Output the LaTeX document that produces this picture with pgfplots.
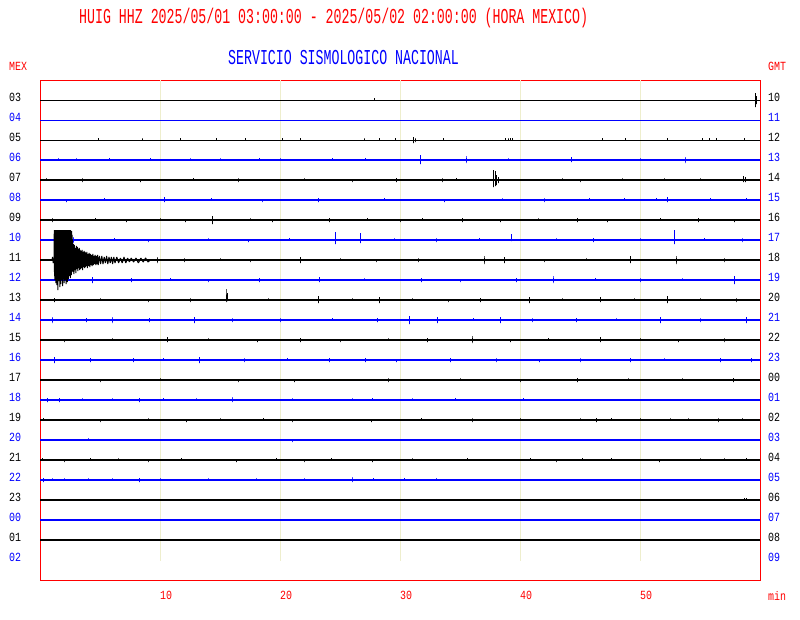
\documentclass[border=0pt]{standalone}
\usepackage{pgfplots}
\pgfplotsset{compat=1.18}
\usepackage{graphicx}
\usepackage{fontspec}
\newfontfamily\mono{Liberation Mono}
\definecolor{sred}{RGB}{255,0,0}
\definecolor{sblue}{RGB}{0,0,255}
\definecolor{sgrid}{RGB}{238,238,205}
\newcommand\lbl{\fontsize{10}{10}\mono}
\newcommand\ttl{\fontsize{13.3}{14}\mono}
\newcommand\lab[1]{\scalebox{1}[1.25]{#1}}
\begin{document}
\begin{tikzpicture}
\path[use as bounding box, fill=white] (0,0) rectangle (800bp,620bp);
\begin{axis}[at={(40bp,40bp)}, anchor=south west, scale only axis,
  width=720bp, height=500bp, xmin=0, xmax=60, ymin=0, ymax=500, y dir=reverse,
  axis line style={sred, line width=1bp}, ytick=\empty,
  xtick={10,20,30,40,50}, xticklabels={\lab{10},\lab{20},\lab{30},\lab{40},\lab{50}},
  major tick length=0pt,
  xticklabel style={anchor=center, yshift=-15bp, xshift=6bp, text=sred, font=\lbl},
  /pgf/number format/assume math mode=true,
  every axis plot/.append style={line join=bevel, line cap=butt}]
% grid lines
\addplot[sgrid, line width=1bp] coordinates {(10,0)(10,481)};
\addplot[sgrid, line width=1bp] coordinates {(20,0)(20,481)};
\addplot[sgrid, line width=1bp] coordinates {(30,0)(30,481)};
\addplot[sgrid, line width=1bp] coordinates {(40,0)(40,481)};
\addplot[sgrid, line width=1bp] coordinates {(50,0)(50,481)};
% row 03
\addplot[black, line width=1bp] coordinates {(0,20)(60,20)};
\addplot[black, line width=1bp] coordinates {(27.9,20)(27.9,18)(27.9,20)(59.64,20)(59.64,13)(59.64,27)(59.64,20)(59.72,20)(59.72,16)(59.72,24)(59.72,20)};
% row 04
\addplot[sblue, line width=1bp] coordinates {(0,40)(60,40)};
% row 05
\addplot[black, line width=1bp] coordinates {(0,60)(60,60)};
\addplot[black, line width=1bp] coordinates {(4.9,60)(4.9,58)(4.9,60)(8.5,60)(8.5,58)(8.5,60)(11.7,60)(11.7,58)(11.7,60)(14.7,60)(14.7,58)(14.7,60)(17.1,60)(17.1,58)(17.1,60)(20.2,60)(20.2,58)(20.2,60)(21.7,60)(21.7,58)(21.7,60)(27.0,60)(27.0,58)(27.0,60)(28.3,60)(28.3,58)(28.3,60)(29.6,60)(29.6,58)(29.6,60)(31.1,60)(31.1,57)(31.1,63)(31.1,60)(31.25,60)(31.25,58)(31.25,62)(31.25,60)(33.6,60)(33.6,58)(33.6,60)(38.8,60)(38.8,58)(38.8,60)(39.0,60)(39.0,58)(39.0,60)(39.2,60)(39.2,58)(39.2,60)(39.4,60)(39.4,58)(39.4,60)(46.9,60)(46.9,58)(46.9,60)(48.8,60)(48.8,58)(48.8,60)(52.3,60)(52.3,58)(52.3,60)(55.2,60)(55.2,58)(55.2,60)(55.8,60)(55.8,58)(55.8,60)(56.4,60)(56.4,58)(56.4,60)(58.7,60)(58.7,58)(58.7,60)};
% row 06
\addplot[sblue, line width=2.2bp] coordinates {(0,80)(60,80)};
\addplot[sblue, line width=1bp] coordinates {(1.5,80)(1.5,78)(1.5,80)(3.0,80)(3.0,78)(3.0,80)(5.8,80)(5.8,78)(5.8,80)(9.2,80)(9.2,78)(9.2,80)(12.5,80)(12.5,78)(12.5,80)(15.0,80)(15.0,78)(15.0,80)(18.3,80)(18.3,78)(18.3,80)(20.0,80)(20.0,78)(20.0,80)(24.4,80)(24.4,78)(24.4,80)(27.1,80)(27.1,78)(27.1,80)(31.67,80)(31.67,75)(31.67,84)(31.67,80)(35.5,80)(35.5,76)(35.5,83)(35.5,80)(39.0,80)(39.0,78)(39.0,80)(44.3,80)(44.3,77)(44.3,82)(44.3,80)(50.0,80)(50.0,78)(50.0,80)(53.75,80)(53.75,77)(53.75,83)(53.75,80)};
% row 07
\addplot[black, line width=2.4bp] coordinates {(0,100)(60,100)};
\addplot[black, line width=1bp] coordinates {(0.5,100)(0.5,98)(0.5,100)(3.5,100)(3.5,98)(3.5,102)(3.5,100)(8.4,100)(8.4,102)(8.4,100)(12.8,100)(12.8,98)(12.8,100)(16.5,100)(16.5,98)(16.5,102)(16.5,100)(22.0,100)(22.0,98)(22.0,100)(26.0,100)(26.0,102)(26.0,100)(29.7,100)(29.7,98)(29.7,102)(29.7,100)(33.5,100)(33.5,98)(33.5,102)(33.5,100)(34.7,100)(34.7,98)(34.7,100)(37.83,100)(37.83,90)(37.83,107)(37.83,100)(37.95,100)(37.95,91)(37.95,106)(37.95,100)(38.05,100)(38.05,95)(38.05,105)(38.05,100)(38.2,100)(38.2,97)(38.2,103)(38.2,100)(43.5,100)(43.5,98)(43.5,100)(45.0,100)(45.0,102)(45.0,100)(48.5,100)(48.5,98)(48.5,100)(52.0,100)(52.0,98)(52.0,100)(55.0,100)(55.0,98)(55.0,100)(58.6,100)(58.6,96)(58.6,102)(58.6,100)(58.8,100)(58.8,97)(58.8,102)(58.8,100)};
% row 08
\addplot[sblue, line width=2.4bp] coordinates {(0,120)(60,120)};
\addplot[sblue, line width=1bp] coordinates {(2.2,120)(2.2,122)(2.2,120)(5.4,120)(5.4,118)(5.4,120)(10.4,120)(10.4,117)(10.4,122)(10.4,120)(14.3,120)(14.3,118)(14.3,120)(18.5,120)(18.5,122)(18.5,120)(23.2,120)(23.2,118)(23.2,122)(23.2,120)(28.7,120)(28.7,118)(28.7,120)(33.7,120)(33.7,122)(33.7,120)(38.5,120)(38.5,118)(38.5,120)(42.0,120)(42.0,118)(42.0,122)(42.0,120)(45.8,120)(45.8,118)(45.8,120)(48.7,120)(48.7,118)(48.7,120)(51.4,120)(51.4,118)(51.4,120)(52.3,120)(52.3,117)(52.3,122)(52.3,120)(55.9,120)(55.9,118)(55.9,120)(58.9,120)(58.9,118)(58.9,120)};
% row 09
\addplot[black, line width=2.4bp] coordinates {(0,140)(60,140)};
\addplot[black, line width=1bp] coordinates {(1.0,140)(1.0,138)(1.0,142)(1.0,140)(4.6,140)(4.6,138)(4.6,140)(7.2,140)(7.2,142)(7.2,140)(10.0,140)(10.0,138)(10.0,140)(12.1,140)(12.1,142)(12.1,140)(14.4,140)(14.4,136)(14.4,144)(14.4,140)(17.5,140)(17.5,138)(17.5,140)(19.4,140)(19.4,142)(19.4,140)(24.1,140)(24.1,138)(24.1,142)(24.1,140)(27.3,140)(27.3,138)(27.3,140)(30.0,140)(30.0,142)(30.0,140)(31.9,140)(31.9,138)(31.9,140)(35.2,140)(35.2,138)(35.2,142)(35.2,140)(38.4,140)(38.4,142)(38.4,140)(41.5,140)(41.5,138)(41.5,140)(44.8,140)(44.8,138)(44.8,142)(44.8,140)(47.3,140)(47.3,142)(47.3,140)(51.7,140)(51.7,138)(51.7,140)(54.9,140)(54.9,138)(54.9,142)(54.9,140)(57.9,140)(57.9,142)(57.9,140)};
% row 10
\addplot[sblue, line width=2.4bp] coordinates {(0,160)(60,160)};
\addplot[sblue, line width=1bp] coordinates {(2.75,160)(2.75,157)(2.75,163)(2.75,160)(6.2,160)(6.2,158)(6.2,160)(9.0,160)(9.0,162)(9.0,160)(14.0,160)(14.0,158)(14.0,160)(17.4,160)(17.4,162)(17.4,160)(20.8,160)(20.8,158)(20.8,160)(24.6,160)(24.6,152)(24.6,164)(24.6,160)(26.7,160)(26.7,153)(26.7,163)(26.7,160)(29.5,160)(29.5,158)(29.5,160)(33.0,160)(33.0,158)(33.0,162)(33.0,160)(36.6,160)(36.6,158)(36.6,160)(39.3,160)(39.3,154)(39.3,161)(39.3,160)(43.0,160)(43.0,158)(43.0,160)(46.1,160)(46.1,158)(46.1,162)(46.1,160)(50.0,160)(50.0,158)(50.0,160)(52.9,160)(52.9,150)(52.9,164)(52.9,160)(55.4,160)(55.4,158)(55.4,160)(58.5,160)(58.5,158)(58.5,162)(58.5,160)};
% row 11
\addplot[black, line width=2.8bp] coordinates {(0,180)(60,180)};
\addplot[black, line width=1bp] coordinates {(9.75,180)(9.75,177)(9.75,183)(9.75,180)(12.0,180)(12.0,178)(12.0,182)(12.0,180)(15.0,180)(15.0,178)(15.0,180)(17.5,180)(17.5,182)(17.5,180)(21.7,180)(21.7,177)(21.7,183)(21.7,180)(25.0,180)(25.0,178)(25.0,180)(28.0,180)(28.0,182)(28.0,180)(31.5,180)(31.5,178)(31.5,182)(31.5,180)(37.0,180)(37.0,176)(37.0,184)(37.0,180)(38.7,180)(38.7,177)(38.7,183)(38.7,180)(42.0,180)(42.0,182)(42.0,180)(45.5,180)(45.5,178)(45.5,180)(49.2,180)(49.2,176)(49.2,183)(49.2,180)(53.0,180)(53.0,176)(53.0,184)(53.0,180)(57.0,180)(57.0,178)(57.0,182)(57.0,180)};
% row 12
\addplot[sblue, line width=2.8bp] coordinates {(0,200)(60,200)};
\addplot[sblue, line width=1bp] coordinates {(4.4,200)(4.4,197)(4.4,203)(4.4,200)(7.6,200)(7.6,198)(7.6,202)(7.6,200)(10.9,200)(10.9,198)(10.9,200)(14.0,200)(14.0,202)(14.0,200)(18.3,200)(18.3,198)(18.3,202)(18.3,200)(23.3,200)(23.3,197)(23.3,202)(23.3,200)(27.0,200)(27.0,198)(27.0,200)(31.8,200)(31.8,198)(31.8,202)(31.8,200)(35.0,200)(35.0,202)(35.0,200)(39.7,200)(39.7,198)(39.7,202)(39.7,200)(42.75,200)(42.75,196)(42.75,203)(42.75,200)(46.3,200)(46.3,198)(46.3,200)(50.0,200)(50.0,198)(50.0,202)(50.0,200)(53.5,200)(53.5,198)(53.5,200)(57.9,200)(57.9,196)(57.9,204)(57.9,200)};
% row 13
\addplot[black, line width=2.4bp] coordinates {(0,220)(60,220)};
\addplot[black, line width=1bp] coordinates {(1.2,220)(1.2,218)(1.2,222)(1.2,220)(5.0,220)(5.0,218)(5.0,220)(9.0,220)(9.0,222)(9.0,220)(12.5,220)(12.5,218)(12.5,222)(12.5,220)(15.5,220)(15.5,209)(15.5,222)(15.5,220)(15.65,220)(15.65,213)(15.65,221)(15.65,220)(19.0,220)(19.0,218)(19.0,220)(23.2,220)(23.2,216)(23.2,223)(23.2,220)(26.0,220)(26.0,218)(26.0,220)(28.3,220)(28.3,217)(28.3,223)(28.3,220)(31.0,220)(31.0,218)(31.0,220)(34.0,220)(34.0,222)(34.0,220)(36.7,220)(36.7,218)(36.7,222)(36.7,220)(40.8,220)(40.8,217)(40.8,223)(40.8,220)(43.5,220)(43.5,218)(43.5,220)(46.7,220)(46.7,217)(46.7,222)(46.7,220)(49.5,220)(49.5,218)(49.5,220)(52.3,220)(52.3,216)(52.3,223)(52.3,220)(55.0,220)(55.0,218)(55.0,220)(58.0,220)(58.0,218)(58.0,222)(58.0,220)};
% row 14
\addplot[sblue, line width=2.8bp] coordinates {(0,240)(60,240)};
\addplot[sblue, line width=1bp] coordinates {(1.0,240)(1.0,237)(1.0,243)(1.0,240)(3.9,240)(3.9,238)(3.9,242)(3.9,240)(6.0,240)(6.0,237)(6.0,243)(6.0,240)(9.1,240)(9.1,238)(9.1,242)(9.1,240)(12.9,240)(12.9,237)(12.9,243)(12.9,240)(16.0,240)(16.0,238)(16.0,242)(16.0,240)(20.0,240)(20.0,238)(20.0,242)(20.0,240)(24.4,240)(24.4,238)(24.4,240)(28.1,240)(28.1,238)(28.1,242)(28.1,240)(30.8,240)(30.8,236)(30.8,244)(30.8,240)(33.1,240)(33.1,237)(33.1,243)(33.1,240)(36.1,240)(36.1,238)(36.1,240)(38.4,240)(38.4,237)(38.4,243)(38.4,240)(41.0,240)(41.0,238)(41.0,242)(41.0,240)(44.7,240)(44.7,238)(44.7,242)(44.7,240)(48.0,240)(48.0,238)(48.0,240)(51.7,240)(51.7,237)(51.7,243)(51.7,240)(55.0,240)(55.0,238)(55.0,242)(55.0,240)(58.9,240)(58.9,237)(58.9,243)(58.9,240)};
% row 15
\addplot[black, line width=2.4bp] coordinates {(0,260)(60,260)};
\addplot[black, line width=1bp] coordinates {(2.0,260)(2.0,262)(2.0,260)(6.0,260)(6.0,258)(6.0,260)(10.6,260)(10.6,257)(10.6,262)(10.6,260)(14.0,260)(14.0,258)(14.0,260)(18.1,260)(18.1,262)(18.1,260)(21.7,260)(21.7,258)(21.7,262)(21.7,260)(25.0,260)(25.0,262)(25.0,260)(29.0,260)(29.0,258)(29.0,260)(32.3,260)(32.3,258)(32.3,262)(32.3,260)(36.0,260)(36.0,256)(36.0,263)(36.0,260)(39.2,260)(39.2,262)(39.2,260)(42.4,260)(42.4,258)(42.4,260)(46.7,260)(46.7,257)(46.7,262)(46.7,260)(50.0,260)(50.0,258)(50.0,260)(53.2,260)(53.2,262)(53.2,260)(57.0,260)(57.0,258)(57.0,262)(57.0,260)};
% row 16
\addplot[sblue, line width=2.4bp] coordinates {(0,280)(60,280)};
\addplot[sblue, line width=1bp] coordinates {(1.2,280)(1.2,277)(1.2,283)(1.2,280)(4.2,280)(4.2,278)(4.2,282)(4.2,280)(7.8,280)(7.8,278)(7.8,282)(7.8,280)(10.3,280)(10.3,278)(10.3,280)(13.3,280)(13.3,277)(13.3,283)(13.3,280)(17.0,280)(17.0,278)(17.0,282)(17.0,280)(20.6,280)(20.6,278)(20.6,280)(24.1,280)(24.1,278)(24.1,282)(24.1,280)(27.1,280)(27.1,278)(27.1,282)(27.1,280)(29.7,280)(29.7,282)(29.7,280)(34.2,280)(34.2,278)(34.2,282)(34.2,280)(38.0,280)(38.0,278)(38.0,282)(38.0,280)(41.6,280)(41.6,282)(41.6,280)(45.0,280)(45.0,278)(45.0,282)(45.0,280)(49.2,280)(49.2,278)(49.2,282)(49.2,280)(52.0,280)(52.0,278)(52.0,280)(56.7,280)(56.7,278)(56.7,282)(56.7,280)(59.3,280)(59.3,278)(59.3,282)(59.3,280)};
% row 17
\addplot[black, line width=2bp] coordinates {(0,300)(60,300)};
\addplot[black, line width=1bp] coordinates {(5.0,300)(5.0,302)(5.0,300)(10.0,300)(10.0,298)(10.0,300)(16.5,300)(16.5,302)(16.5,300)(21.2,300)(21.2,302)(21.2,300)(29.0,300)(29.0,298)(29.0,302)(29.0,300)(35.0,300)(35.0,298)(35.0,300)(40.0,300)(40.0,302)(40.0,300)(44.8,300)(44.8,298)(44.8,302)(44.8,300)(49.0,300)(49.0,298)(49.0,300)(53.5,300)(53.5,298)(53.5,300)(57.8,300)(57.8,298)(57.8,302)(57.8,300)};
% row 18
\addplot[sblue, line width=2.2bp] coordinates {(0,320)(60,320)};
\addplot[sblue, line width=1bp] coordinates {(0.6,320)(0.6,318)(0.6,322)(0.6,320)(1.6,320)(1.6,318)(1.6,322)(1.6,320)(3.5,320)(3.5,318)(3.5,320)(6.0,320)(6.0,318)(6.0,320)(8.3,320)(8.3,318)(8.3,322)(8.3,320)(10.3,320)(10.3,318)(10.3,320)(13.0,320)(13.0,318)(13.0,320)(16.0,320)(16.0,317)(16.0,322)(16.0,320)(21.0,320)(21.0,318)(21.0,320)(26.0,320)(26.0,318)(26.0,320)(27.7,320)(27.7,318)(27.7,320)(31.0,320)(31.0,318)(31.0,320)(34.6,320)(34.6,318)(34.6,320)(40.3,320)(40.3,318)(40.3,320)};
% row 19
\addplot[black, line width=1.7bp] coordinates {(0,340)(60,340)};
\addplot[black, line width=1bp] coordinates {(0.3,340)(0.3,338)(0.3,340)(5.0,340)(5.0,342)(5.0,340)(9.0,340)(9.0,338)(9.0,340)(12.2,340)(12.2,342)(12.2,340)(15.0,340)(15.0,338)(15.0,340)(18.6,340)(18.6,338)(18.6,340)(21.0,340)(21.0,342)(21.0,340)(27.6,340)(27.6,342)(27.6,340)(31.8,340)(31.8,338)(31.8,340)(36.0,340)(36.0,338)(36.0,342)(36.0,340)(40.0,340)(40.0,338)(40.0,340)(45.0,340)(45.0,338)(45.0,340)(46.4,340)(46.4,338)(46.4,342)(46.4,340)(47.6,340)(47.6,338)(47.6,340)(50.0,340)(50.0,338)(50.0,340)(52.5,340)(52.5,338)(52.5,340)(54.0,340)(54.0,338)(54.0,340)(56.5,340)(56.5,338)(56.5,342)(56.5,340)(58.5,340)(58.5,338)(58.5,340)};
% row 20
\addplot[sblue, line width=2.2bp] coordinates {(0,360)(60,360)};
\addplot[sblue, line width=1bp] coordinates {(4.0,360)(4.0,358)(4.0,360)(21.0,360)(21.0,362)(21.0,360)};
% row 21
\addplot[black, line width=1.7bp] coordinates {(0,380)(60,380)};
\addplot[black, line width=1bp] coordinates {(0.2,380)(0.2,378)(0.2,380)(2.0,380)(2.0,382)(2.0,380)(4.2,380)(4.2,378)(4.2,380)(6.5,380)(6.5,378)(6.5,380)(9.0,380)(9.0,382)(9.0,380)(11.8,380)(11.8,378)(11.8,380)(16.4,380)(16.4,382)(16.4,380)(19.7,380)(19.7,378)(19.7,380)(22.0,380)(22.0,382)(22.0,380)(24.3,380)(24.3,378)(24.3,380)(27.7,380)(27.7,382)(27.7,380)(31.0,380)(31.0,378)(31.0,380)(35.6,380)(35.6,378)(35.6,380)(40.9,380)(40.9,378)(40.9,380)(43.0,380)(43.0,382)(43.0,380)(45.2,380)(45.2,378)(45.2,380)(47.6,380)(47.6,378)(47.6,380)(51.6,380)(51.6,382)(51.6,380)(55.0,380)(55.0,378)(55.0,380)(57.0,380)(57.0,378)(57.0,380)(58.9,380)(58.9,378)(58.9,380)};
% row 22
\addplot[sblue, line width=2.2bp] coordinates {(0,400)(60,400)};
\addplot[sblue, line width=1bp] coordinates {(0.3,400)(0.3,398)(0.3,402)(0.3,400)(1.0,400)(1.0,398)(1.0,400)(2.0,400)(2.0,398)(2.0,400)(4.0,400)(4.0,398)(4.0,400)(6.0,400)(6.0,398)(6.0,400)(8.3,400)(8.3,398)(8.3,402)(8.3,400)(10.0,400)(10.0,398)(10.0,400)(14.0,400)(14.0,398)(14.0,400)(18.0,400)(18.0,398)(18.0,400)(22.0,400)(22.0,398)(22.0,400)(26.0,400)(26.0,397)(26.0,402)(26.0,400)(27.8,400)(27.8,398)(27.8,400)(30.4,400)(30.4,398)(30.4,400)(33.0,400)(33.0,398)(33.0,400)};
% row 23
\addplot[black, line width=2.2bp] coordinates {(0,420)(60,420)};
\addplot[black, line width=1bp] coordinates {(58.7,420)(58.7,418)(58.7,420)(58.85,420)(58.85,418)(58.85,420)};
% row 00
\addplot[sblue, line width=2.2bp] coordinates {(0,440)(60,440)};
% row 01
\addplot[black, line width=2.8bp] coordinates {(0,460)(60,460)};
% earthquake on row 11
\addplot[black, line width=1bp] coordinates {
(1.0,180)(1.05,177)(1.1,183)(1.17,180)(1.19,150)(1.21,196)(1.23,150)(1.25,200)(1.27,150)(1.29,193)(1.31,150)(1.33,203)(1.35,151)(1.37,198)(1.39,150)(1.41,205)(1.43,150)(1.45,196)(1.47,152)(1.49,210)(1.51,150)(1.53,197)(1.55,150)(1.57,201)(1.59,151)(1.61,194)(1.63,150)(1.65,207)(1.67,153)(1.69,199)(1.71,150)(1.73,204)(1.75,150)(1.77,195)(1.79,151)(1.81,200)(1.83,150)(1.85,197)(1.87,152)(1.89,206)(1.91,150)(1.93,195)(1.95,150)(1.97,199)(1.99,151)(2.01,203)(2.03,150)(2.05,194)(2.07,150)(2.09,200)(2.11,152)(2.13,193)(2.15,150)(2.17,204)(2.19,151)(2.21,194)(2.23,150)(2.25,198)(2.27,152)(2.29,202)(2.31,150)(2.33,193)(2.35,151)(2.37,199)(2.39,150)(2.41,192)(2.43,152)(2.45,196)(2.47,150)(2.49,193)(2.51,151)(2.53,198)(2.55,150)(2.57,192)(2.59,153)(2.61,195)(2.63,151)(2.65,191)(2.67,155)
(2.71,166)(2.75,192)(2.79,164)(2.83,194)(2.87,165)(2.91,190)(2.95,168)(2.99,193)(3.03,166)(3.07,189)(3.11,167)(3.15,191)(3.19,169)(3.23,188)(3.27,168)(3.31,190)(3.35,170)(3.39,189)(3.43,171)(3.47,188)(3.51,170)(3.55,190)(3.59,172)(3.63,187)(3.67,171)(3.71,188)(3.75,172)(3.79,187)(3.83,173)(3.87,186)(3.91,172)(3.95,188)(4.0,174)(4.05,186)(4.1,173)(4.15,187)(4.2,174)(4.25,185)(4.3,175)(4.35,186)(4.4,174)(4.45,185)(4.5,176)(4.55,184)(4.6,175)(4.65,185)(4.7,176)(4.75,184)(4.8,175)(4.85,185)(4.95,176)(5.05,184)(5.15,176)(5.25,184)(5.35,177)(5.45,183)(5.55,176)(5.65,184)(5.75,177)(5.85,183)(5.95,177)(6.05,184)(6.15,177)(6.25,183)(6.4,177)(6.55,183)(6.7,178)(6.85,183)(7.0,177)(7.15,183)(7.3,178)(7.45,182)(7.6,178)(7.8,182)(8.0,178)(8.2,183)(8.4,178)(8.6,182)(8.8,178)(9.0,182)(9.2,180)};
\end{axis}
% titles
\node[anchor=west, inner sep=0, text=sred, font=\ttl] at (79bp,602bp) {\scalebox{1}[1.6]{HUIG HHZ 2025/05/01 03:00:00 - 2025/05/02 02:00:00 (HORA MEXICO)}};
\node[anchor=west, inner sep=0, text=sblue, font=\ttl] at (228bp,562bp) {\scalebox{1}[1.6]{SERVICIO SISMOLOGICO NACIONAL}};
\node[anchor=west, inner sep=0, text=sred, font=\lbl] at (9bp,554bp) {\lab{MEX}};
\node[anchor=west, inner sep=0, text=sred, font=\lbl] at (768bp,554bp) {\lab{GMT}};
\node[anchor=west, inner sep=0, text=sred, font=\lbl] at (768bp,24bp) {\lab{min}};
\foreach \l/\r [count=\k from 0] in {03/10,04/11,05/12,06/13,07/14,08/15,09/16,10/17,11/18,12/19,13/20,14/21,15/22,16/23,17/00,18/01,19/02,20/03,21/04,22/05,23/06,00/07,01/08,02/09}{
  \pgfmathsetmacro\yy{620-97-20*\k}
  \ifodd\k \def\cc{sblue}\else\def\cc{black}\fi
  \node[anchor=west, inner sep=0, text=\cc, font=\lbl] at (9bp,\yy bp) {\lab{\l}};
  \node[anchor=west, inner sep=0, text=\cc, font=\lbl] at (768bp,\yy bp) {\lab{\r}};
}
\end{tikzpicture}
\end{document}
